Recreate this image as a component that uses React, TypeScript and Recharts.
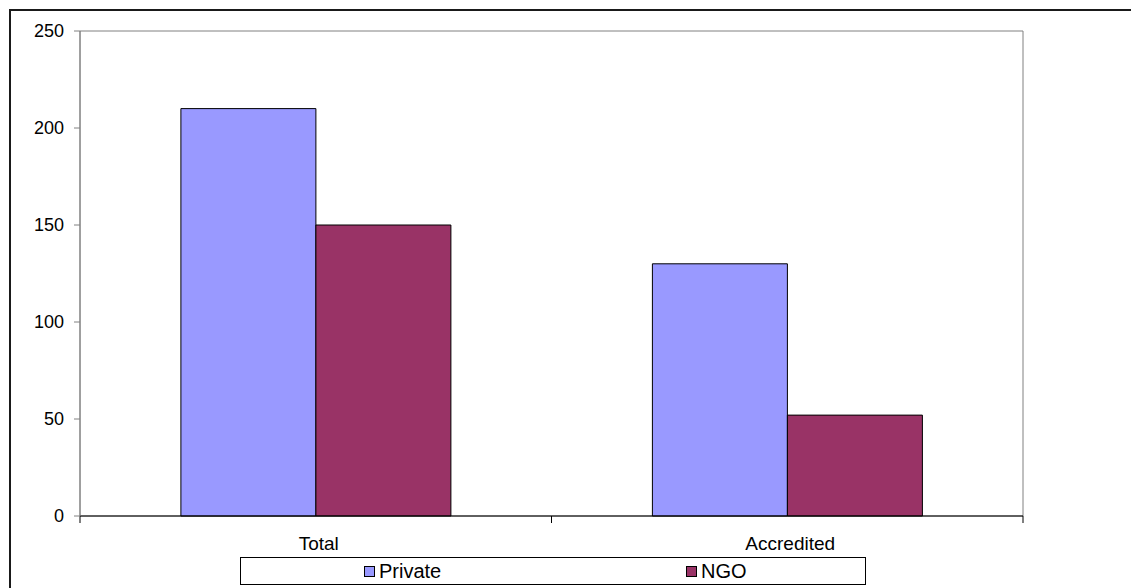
import React from 'react';
import { BarChart, Bar, XAxis, YAxis, ReferenceArea } from 'recharts';

const categories = ['Total', 'Accredited'];
const privateValues = [210, 130];
const ngoValues = [150, 52];
const yTicks = [0, 50, 100, 150, 200, 250];
const seriesNames = ['Private', 'NGO'];
const seriesColors = ['#9999FF', '#993366'];
const boundaryTicks = [0, 1, 2];

const data = categories.map((c, i) => ({
  name: c,
  idx: i,
  Private: privateValues[i],
  NGO: ngoValues[i],
}));

const FONT = '"Liberation Sans", Arial, sans-serif';

export default function App() {
  return (
    <div style={{ position: 'absolute', left: 0, top: 0, width: 1131, height: 588, background: '#fff', overflow: 'hidden', fontFamily: FONT }}>
      <div style={{ position: 'absolute', left: 9, top: 9, width: 1200, height: 700, borderTop: '2px solid #1a1a1a', borderLeft: '2px solid #1a1a1a' }} />
      <BarChart
        width={1131}
        height={588}
        data={data}
        margin={{ top: 31, right: 108, bottom: 41, left: 20 }}
        barCategoryGap="21.4%"
        barGap={0}
      >
        <ReferenceArea yAxisId="y" xAxisId="cat" y1={0} y2={250} fill="none" stroke="#808080" strokeWidth={1} ifOverflow="visible" />
        <XAxis
          xAxisId="bound"
          type="number"
          dataKey="idx"
          domain={[0, 2]}
          ticks={boundaryTicks}
          height={1}
          axisLine={{ stroke: '#000' }}
          tickSize={7}
          tickLine={{ stroke: '#000' }}
          tickFormatter={() => ''}
          interval={0}
          allowDataOverflow
        />
        <XAxis
          xAxisId="cat"
          dataKey="name"
          height={30}
          axisLine={false}
          tickLine={false}
          tickSize={0}
          tickMargin={20}
          tick={{ fill: '#000', fontSize: 19, fontFamily: FONT, dx: 3 }}
        />
        <YAxis
          yAxisId="y"
          domain={[0, 250]}
          ticks={yTicks}
          width={60}
          axisLine={{ stroke: '#808080' }}
          tickLine={{ stroke: '#808080' }}
          tickSize={6}
          tickMargin={10}
          tick={{ fill: '#000', fontSize: 18, fontFamily: FONT }}
        />
        <Bar xAxisId="cat" yAxisId="y" dataKey="Private" fill={seriesColors[0]} stroke="#000" strokeWidth={1} isAnimationActive={false} />
        <Bar xAxisId="cat" yAxisId="y" dataKey="NGO" fill={seriesColors[1]} stroke="#000" strokeWidth={1} isAnimationActive={false} />
      </BarChart>
      <div style={{ position: 'absolute', left: 240, top: 557, width: 624, height: 26, border: '1px solid #000', background: '#fff' }}>
        {seriesNames.map((n, i) => (
          <div key={n} style={{ position: 'absolute', left: i === 0 ? 123 : 445, top: 3, display: 'flex', alignItems: 'center', fontSize: 20, color: '#000', lineHeight: '20px' }}>
            <span style={{ display: 'inline-block', width: 9, height: 9, background: seriesColors[i], border: '1px solid #000', marginRight: 4 }} />
            <span>{n}</span>
          </div>
        ))}
      </div>
    </div>
  );
}
